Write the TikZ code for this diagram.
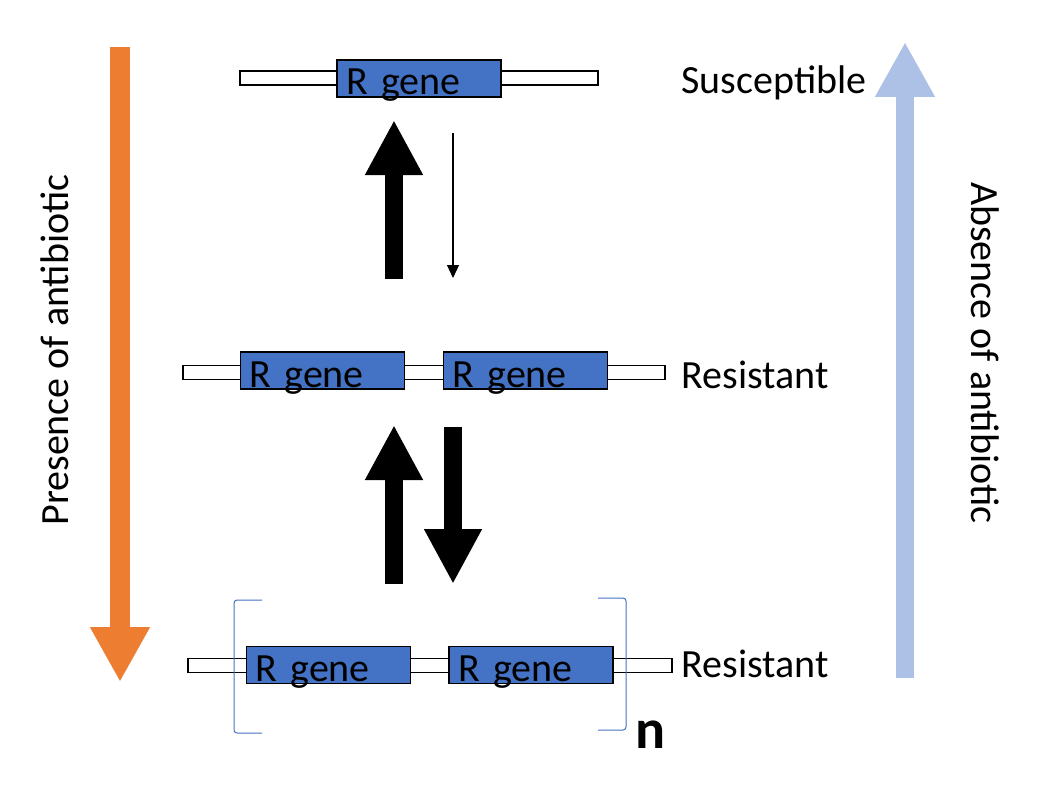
\documentclass[tikz,border=0pt]{standalone}
\usepackage{fontspec}
\setmainfont{Carlito}
\usetikzlibrary{arrows.meta, positioning, calc}
\definecolor{genefill}{RGB}{68,114,196}
\definecolor{presenceorange}{RGB}{237,125,49}
\definecolor{absenceblue}{RGB}{172,193,229}
\tikzset{
  % DNA backbone and gene boxes
  backbone/.style={draw=black, fill=white, line width=0.6pt, minimum height=7pt, inner sep=0pt},
  genebox/.style={draw=black, fill=genefill, line width=0.6pt, inner xsep=4.5pt, inner ysep=0pt,
    text width=73pt, align=left, text height=17.5pt, text depth=1pt, font=\fontsize{20}{24}\selectfont},
  % Labels
  statelabel/.style={anchor=base west, font=\fontsize{20}{24}\selectfont, inner sep=0pt},
  conditionlabel/.style={font=\fontsize{20}{24}\selectfont, inner sep=0pt},
  repeatlabel/.style={font=\bfseries\fontsize{28}{32}\selectfont, inner sep=0pt},
  bracketline/.style={draw=genefill, line width=0.5pt, rounded corners=1.5pt},
  % Pointers
  bigpointer/.style={draw=black, line width=9pt, -{Triangle[width=27pt, length=27.5pt]}},
  thinpointer/.style={draw=black, line width=0.6pt, -{Triangle[width=6pt, length=6.5pt]}},
  sidepointer/.style={line width=10pt, -{Triangle[width=28pt, length=27.5pt]}},
}

\begin{document}
\begin{tikzpicture}[x=0.5pt, y=-0.5pt]
  \useasboundingbox (0,0) rectangle (1038,797);

  % susceptible: one copy
  \node[backbone, minimum width=179pt] (topbb) at (419,78) {};
  \node[genebox] (topgene) at (419,78.5) {R gene};
  \node[statelabel] (susc) at (681,94) {Susceptible};

  % resistant: two copies
  \node[backbone, minimum width=241pt] (midbb) at (424,372.5) {};
  \node[genebox] (midgeneA) at (322.5,370.5) {R gene};
  \node[genebox] (midgeneB) at (525.5,370.5) {R gene};
  \node[statelabel] (midres) at (681,388) {Resistant};

  % resistant: n copies
  \node[backbone, minimum width=242pt] (lowbb) at (430,665.5) {};
  \node[genebox] (lowgeneA) at (328.5,665) {R gene};
  \node[genebox] (lowgeneB) at (531,665) {R gene};
  \node[statelabel] (lowres) at (681,677) {Resistant};

  \draw[bracketline] (262,600) -- (234,600) -- (234,733) -- (262,733);
  \draw[bracketline] (598,598) -- (626,598) -- (626,730) -- (598,730);
  \node[repeatlabel] (repeat) at (651,735) {n};

  % transitions between states
  \coordinate (gainA) at (394,279);
  \coordinate (gainAtip) at (394,120);
  \coordinate (lossA) at (453,133);
  \coordinate (lossAtip) at (453,278);
  \coordinate (gainB) at (394,584);
  \coordinate (gainBtip) at (394,425);
  \coordinate (lossB) at (453,427);
  \coordinate (lossBtip) at (453,584);
  \draw[bigpointer] (gainA) -- (gainAtip);
  \draw[thinpointer] (lossA) -- (lossAtip);
  \draw[bigpointer] (gainB) -- (gainBtip);
  \draw[bigpointer] (lossB) -- (lossBtip);

  % selection conditions
  \coordinate (presencetop) at (120,47);
  \coordinate (presencebot) at (120,682);
  \coordinate (absencebot) at (905,678);
  \coordinate (absencetop) at (905,42);
  \draw[sidepointer, draw=presenceorange, fill=presenceorange] (presencetop) -- (presencebot);
  \draw[sidepointer, line width=9pt, draw=absenceblue, fill=absenceblue] (absencebot) -- (absencetop);
  \node[conditionlabel, rotate=90] (presence) at (55,350) {Presence of antibiotic};
  \node[conditionlabel, rotate=-90] (absence) at (985,353) {Absence of antibiotic};
\end{tikzpicture}
\end{document}
